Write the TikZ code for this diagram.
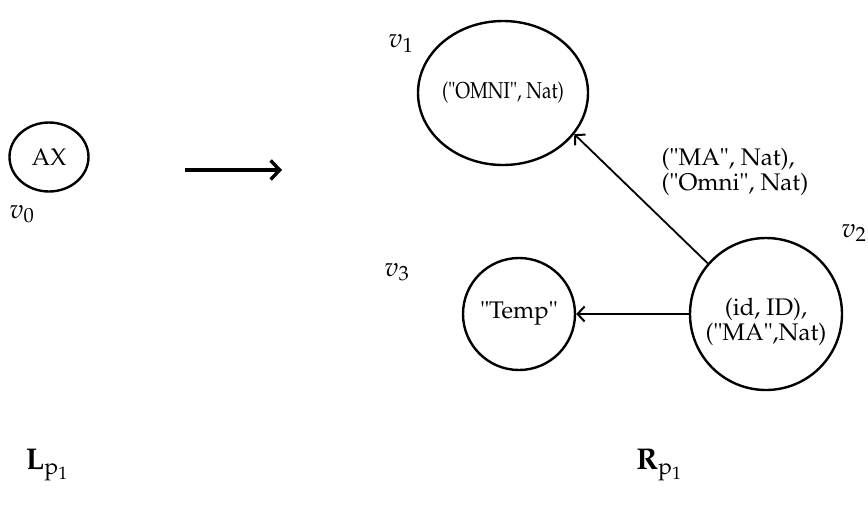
\documentclass[tikz,border=0pt]{standalone}
\usepackage[T1]{fontenc}
\usepackage{mathpazo}
\usetikzlibrary{shapes.geometric,arrows.meta}
\begin{document}
\begin{tikzpicture}[x=1pt,y=-1pt,
  font=\fontsize{24}{25}\selectfont,
  vell/.style={draw, ellipse, line width=2.4pt, inner sep=0pt},
  vcirc/.style={draw, circle, line width=2.4pt, inner sep=0pt},
  txt/.style={inner sep=0pt, align=center},
  edge/.style={line width=1.8pt, -{Straight Barb[length=7pt,width=15pt,line width=2pt]}},
  bigarrow/.style={line width=3.8pt, -{Straight Barb[length=9pt,width=19pt,line width=3.4pt]}},
  vlbl/.style={inner sep=0pt, font=\fontsize{27}{28}\selectfont},
  rlbl/.style={inner sep=0pt, font=\fontsize{30}{31}\selectfont}]
\useasboundingbox (0,0) rectangle (868,507);
% left graph
\node[vell, minimum width=79pt, minimum height=69pt] (v0) at (49,157) {};
\node[txt] (t0) at (v0) {AX};
\node[vlbl] (l0) at (22,214) {$v_0$};
% transformation arrow
\coordinate (a1) at (185,170);
\coordinate (a2) at (282,170);
\draw[bigarrow] (a1) -- (a2);
% right graph
\node[vell, minimum width=170pt, minimum height=144pt] (v1) at (503,93) {};
\node[txt, font=\fontsize{23}{24}\selectfont] (t1) at (v1) {\scalebox{0.82}[1]{("OMNI", Nat)}};
\node[vlbl] (l1) at (401,44) {$v_1$};
\node[vcirc, minimum size=152pt] (v2) at (766,314) {};
\node[txt] (t2) at ([yshift=-8pt]v2.center) {(id, ID),\\("MA",Nat)};
\node[vlbl] (l2) at (854,233) {$v_2$};
\node[vcirc, minimum size=112pt] (v3) at (519,314) {};
\node[txt] (t3) at (v3) {"Temp"};
\node[vlbl] (l3) at (397,272) {$v_3$};
\draw[edge] (v2.139) -- (v1.-30);
\draw[edge] (v2.west) -- (v3.east);
\node[txt, align=left] (el) at (735,172) {("MA", Nat),\\("Omni", Nat)};
% rule labels
\node[rlbl] (lp) at (47,465) {$\mathbf{L}_{\mathrm{p}_1}$};
\node[rlbl] (rp) at (659,465) {$\mathbf{R}_{\mathrm{p}_1}$};
\end{tikzpicture}
\end{document}
